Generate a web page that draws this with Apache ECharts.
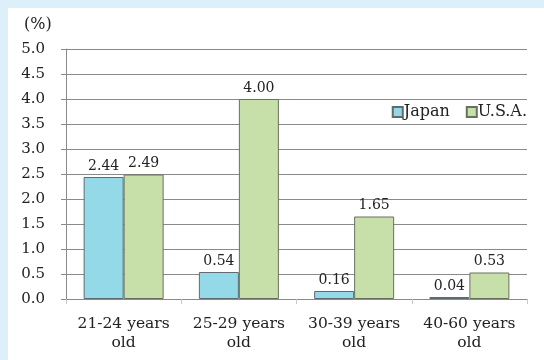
<!DOCTYPE html>
<html>
<head>
<meta charset="utf-8">
<script src="https://cdn.jsdelivr.net/npm/echarts@6/dist/echarts.min.js"></script>
<style>
  html, body { margin: 0; padding: 0; }
  #chart { width: 544px; height: 360px; }
</style>
</head>
<body>
<div id="chart"></div>
<script>
// Age groups and rates (%) per country
const categories = ['21-24 years\nold', '25-29 years\nold', '30-39 years\nold', '40-60 years\nold'];
const japan = [2.44, 0.54, 0.16, 0.04];
const usa = [2.49, 4.00, 1.65, 0.53];
const yTicks = [0, 0.5, 1.0, 1.5, 2.0, 2.5, 3.0, 3.5, 4.0, 4.5, 5.0];

const FONT = 'DejaVu Serif';
const TEXT = '#222';
const LINE = '#8a8a8a';

const chart = echarts.init(document.getElementById('chart'), null, { renderer: 'canvas' });

const barLabel = {
  show: true,
  position: 'top',
  distance: 4,
  color: TEXT,
  fontFamily: FONT,
  fontSize: 14,
  formatter: p => p.value.toFixed(2)
};

chart.setOption({
  backgroundColor: '#ddf0fa',
  animation: false,
  graphic: [
    { type: 'rect', left: 8, top: 8, shape: { width: 536, height: 352 }, style: { fill: '#fff' }, z: -10 },
    { type: 'text', left: 24, top: 17, style: { text: '(%)', font: '16px "DejaVu Serif"', fill: TEXT } }
  ],
  grid: { left: 66, right: 17, top: 49, bottom: 61, containLabel: false },
  legend: {
    right: 12, top: 99,
    icon: 'rect', itemWidth: 10, itemHeight: 10, itemGap: 16,
    textStyle: { fontFamily: FONT, fontSize: 16, color: TEXT, padding: [0, 0, 0, -4] },
    data: ['Japan', 'U.S.A.']
  },
  xAxis: {
    type: 'category',
    data: categories,
    axisLine: { lineStyle: { color: LINE, width: 1 } },
    axisTick: { show: true, length: 5, lineStyle: { color: '#c8c8c8' } },
    axisLabel: { interval: 0, fontFamily: FONT, fontSize: 15.5, color: TEXT, lineHeight: 19, margin: 15 }
  },
  yAxis: {
    type: 'value',
    min: 0, max: 5, interval: 0.5,
    axisLine: { show: true, lineStyle: { color: LINE, width: 1 } },
    axisTick: { show: true, length: 5, lineStyle: { color: LINE } },
    splitLine: { lineStyle: { color: LINE, width: 1 } },
    axisLabel: {
      fontFamily: FONT, fontSize: 15, color: TEXT, margin: 21,
      formatter: v => (yTicks.includes(v) ? v.toFixed(1) : '')
    }
  },
  series: [
    {
      name: 'Japan', type: 'bar', data: japan, barWidth: 40, barGap: '0%',
      itemStyle: { color: '#93d9e8', borderColor: '#5f6b70', borderWidth: 1 },
      label: barLabel
    },
    {
      name: 'U.S.A.', type: 'bar', data: usa, barWidth: 40,
      itemStyle: { color: '#c7dfa9', borderColor: '#6a7060', borderWidth: 1 },
      label: barLabel
    }
  ]
});
</script>
</body>
</html>
